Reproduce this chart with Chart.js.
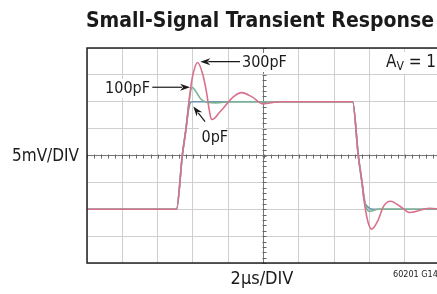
<!DOCTYPE html>
<html>
<head>
<meta charset="utf-8">
<script src="https://cdn.jsdelivr.net/npm/chart.js@4.4.1/dist/chart.umd.min.js"></script>
<style>
  html, body { margin: 0; padding: 0; background: #fff; overflow: hidden; }
  #wrap { position: relative; width: 445px; height: 294px; }
</style>
</head>
<body>
<div id="wrap"><canvas id="chart" width="445" height="294"></canvas></div>
<script>
// time in µs (2µs/DIV), output in mV (5mV/DIV)
const xTicks = [0, 2, 4, 6, 8, 10, 12, 14, 16, 18, 20];
const yTicks = [-20, -15, -10, -5, 0, 5, 10, 15, 20];

// CL = 300pF
const t300 = [0, 5.07, 5.40, 5.61, 5.87, 6.02, 6.26, 6.55, 6.78, 6.92, 7.06, 7.22, 7.45, 7.72, 8.29, 8.77, 9.35, 9.99, 10.9,
              15.05, 15.37, 15.58, 15.75, 15.94, 16.13, 16.5, 16.79, 17.2, 17.75, 18.3, 19.4, 20];
const v300 = [-10, -10, 0, 5, 12.5, 15.3, 17.3, 15.2, 11.6, 8.6, 6.7, 6.9, 7.8, 8.8, 10.9, 11.7, 10.9, 9.6, 10,
              10, 0, -5, -9.5, -12.6, -13.7, -12, -9.5, -8.5, -9.5, -10.6, -9.8, -10];
// CL = 100pF
const t100 = [0, 5.07, 5.40, 5.61, 5.80, 5.95, 6.15, 6.45, 6.8, 7.3, 8.2,
              15.05, 15.37, 15.58, 15.78, 16.03, 16.5, 20];
const v100 = [-10, -10, 0, 5, 10.5, 12.7, 12, 10.5, 9.9, 9.8, 10,
              10, 0, -5, -9.2, -10.4, -10, -10];
// CL = 0pF
const t0 = [0, 5.07, 5.40, 5.61, 5.78, 5.92, 6.2, 15.05, 15.37, 15.58, 15.70, 15.86, 16.2, 20];
const v0 = [-10, -10, 0, 5, 9, 10, 10, 10, 0, -5, -8.3, -9.4, -10, -10];

const FONT = "'Liberation Sans Narrow', 'DejaVu Sans Condensed', 'Arial Narrow', sans-serif";

function toPoints(ts, vs) {
    return ts.map((t, i) => ({ x: t, y: vs[i] }));
}

function arrow(ctx, x1, y1, x2, y2) {
    const ang = Math.atan2(y2 - y1, x2 - x1);
    const len = 10, half = 3.5;
    ctx.beginPath();
    ctx.moveTo(x1, y1);
    ctx.lineTo(x2 - Math.cos(ang) * len * 0.8, y2 - Math.sin(ang) * len * 0.8);
    ctx.stroke();
    ctx.beginPath();
    ctx.moveTo(x2, y2);
    ctx.lineTo(x2 - Math.cos(ang) * len - Math.sin(ang) * half, y2 - Math.sin(ang) * len + Math.cos(ang) * half);
    ctx.lineTo(x2 - Math.cos(ang) * len * 0.7, y2 - Math.sin(ang) * len * 0.7);
    ctx.lineTo(x2 - Math.cos(ang) * len + Math.sin(ang) * half, y2 - Math.sin(ang) * len - Math.cos(ang) * half);
    ctx.closePath();
    ctx.fill();
}

const scopeDecor = {
    id: 'scopeDecor',
    beforeDatasetsDraw(chart) {
        const { ctx, scales: { x, y } } = chart;
        ctx.save();
        // small marks along the centre cross
        const cx = Math.round(x.getPixelForValue(10)) + 0.5;
        const cy = Math.round(y.getPixelForValue(0)) + 0.5;
        ctx.strokeStyle = '#666';
        ctx.lineWidth = 1;
        ctx.beginPath();
        for (let v = 0; v <= 20; v += 0.4) {
            const px = Math.round(x.getPixelForValue(v)) + 0.5;
            ctx.moveTo(px, cy - 2); ctx.lineTo(px, cy + 2);
        }
        for (let v = -20; v <= 20; v += 1) {
            const py = Math.round(y.getPixelForValue(v)) + 0.5;
            ctx.moveTo(cx - 2, py); ctx.lineTo(cx + 2, py);
        }
        ctx.stroke();

        // white patches behind the labels
        ctx.fillStyle = '#fff';
        ctx.fillRect(104, 79, 48, 19);
        ctx.fillRect(240, 53, 49, 19);
        ctx.fillRect(199, 128, 27, 19);
        ctx.fillRect(382, 52, 60, 22);
        ctx.restore();
    },
    afterDatasetsDraw(chart) {
        const { ctx, chartArea: a, scales: { x, y } } = chart;
        ctx.save();
        // frame
        ctx.strokeStyle = '#222';
        ctx.lineWidth = 1.5;
        ctx.strokeRect(a.left, a.top, a.right - a.left, a.bottom - a.top);

        ctx.fillStyle = '#1a1a1a';
        ctx.strokeStyle = '#1a1a1a';
        ctx.lineWidth = 1.2;
        arrow(ctx, x.getPixelForValue(8.67), y.getPixelForValue(17.45), x.getPixelForValue(6.42), y.getPixelForValue(17.45));
        arrow(ctx, x.getPixelForValue(3.70), y.getPixelForValue(12.7), x.getPixelForValue(5.84), y.getPixelForValue(12.7));
        arrow(ctx, x.getPixelForValue(6.69), y.getPixelForValue(6.3), x.getPixelForValue(6.02), y.getPixelForValue(9.1));

        ctx.textBaseline = 'middle';
        ctx.font = '16px ' + FONT;
        ctx.textAlign = 'right';
        ctx.fillText('100pF', 150, 88.5);
        ctx.textAlign = 'left';
        ctx.fillText('300pF', 242, 62.5);
        ctx.fillText('0pF', 201.5, 137.5);

        // A_V = 1
        ctx.font = '17px ' + FONT;
        ctx.fillText('A', 386, 63);
        let w = ctx.measureText('A').width;
        ctx.font = '12px ' + FONT;
        ctx.fillText('V', 386 + w, 67);
        w += ctx.measureText('V').width;
        ctx.font = '17px ' + FONT;
        ctx.fillText(' = 1', 386 + w, 63);
        ctx.restore();
    },
    afterDraw(chart) {
        const { ctx } = chart;
        ctx.save();
        ctx.fillStyle = '#1a1a1a';
        ctx.textBaseline = 'alphabetic';
        ctx.textAlign = 'left';
        ctx.font = 'bold 21px ' + FONT;
        ctx.fillText('Small-Signal Transient Response', 86, 27);

        ctx.textBaseline = 'middle';
        ctx.font = '17px ' + FONT;
        ctx.fillText('5mV/DIV', 12, 157);
        ctx.font = '18px ' + FONT;
        ctx.textAlign = 'center';
        ctx.fillText('2µs/DIV', 262, 279);
        ctx.textAlign = 'left';
        ctx.font = '9px ' + FONT;
        ctx.fillText('60201 G14', 393, 275);
        ctx.restore();
    }
};

const traceStyle = { borderWidth: 1.6, pointRadius: 0, fill: false, cubicInterpolationMode: 'monotone' };

new Chart(document.getElementById('chart'), {
    type: 'line',
    data: {
        datasets: [
            Object.assign({ label: '300pF', data: toPoints(t300, v300), borderColor: '#d9708c' }, traceStyle),
            Object.assign({ label: '100pF', data: toPoints(t100, v100), borderColor: '#7bb393' }, traceStyle),
            Object.assign({ label: '0pF', data: toPoints(t0, v0), borderColor: '#6d93b3' }, traceStyle)
        ]
    },
    options: {
        responsive: false,
        animation: false,
        devicePixelRatio: 1,
        layout: { padding: { left: 87, top: 48, right: 5, bottom: 31 } },
        plugins: { legend: { display: false }, title: { display: false }, tooltip: { enabled: false } },
        scales: {
            x: {
                type: 'linear', min: 0, max: 20,
                afterBuildTicks: s => { s.ticks = xTicks.map(v => ({ value: v })); },
                ticks: { display: false },
                grid: { drawTicks: false, color: c => c.tick.value === 10 ? '#777' : '#cfcfcf', lineWidth: 1 },
                border: { display: false }
            },
            y: {
                type: 'linear', min: -20, max: 20,
                afterBuildTicks: s => { s.ticks = yTicks.map(v => ({ value: v })); },
                ticks: { display: false },
                grid: { drawTicks: false, color: c => c.tick.value === 0 ? '#777' : '#cfcfcf', lineWidth: 1 },
                border: { display: false }
            }
        }
    },
    plugins: [scopeDecor]
});
</script>
</body>
</html>
